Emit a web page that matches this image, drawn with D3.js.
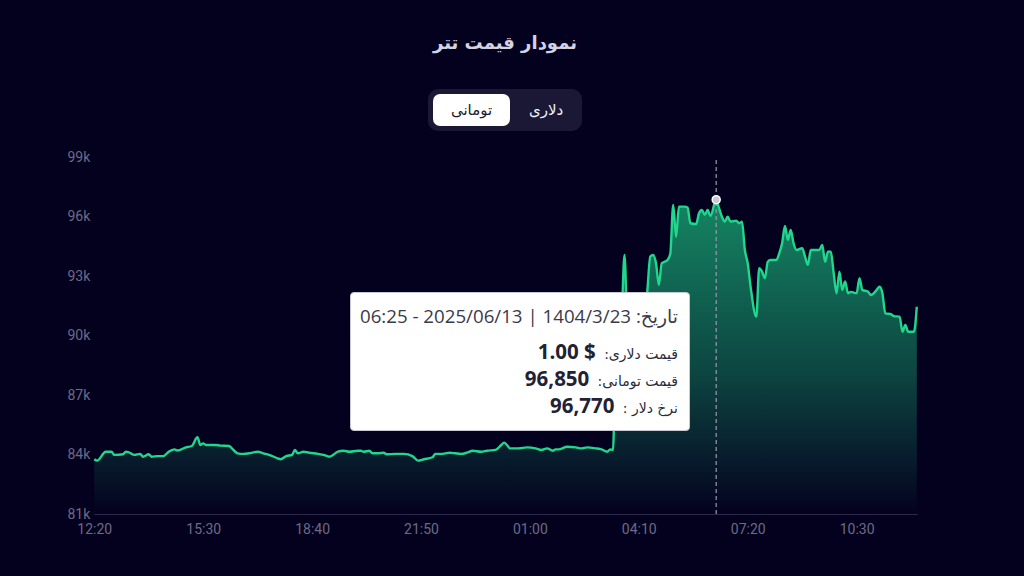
<!DOCTYPE html>
<html>
<head>
<meta charset="utf-8">
<script src="https://cdn.jsdelivr.net/npm/d3@7"></script>
<style>
  html, body { margin:0; padding:0; background:#04011e; }
  body { width:1024px; height:576px; position:relative; overflow:hidden; font-family: Roboto, "DejaVu Sans", sans-serif; }
  #title { position:absolute; left:0; width:1010px; top:32px; text-align:center; color:#d4d3e4; font-weight:bold; font-size:18px; font-family:"DejaVu Sans", sans-serif; }
  #toggle { position:absolute; left:428px; top:89px; width:154px; height:42px; background:#1b1836; border-radius:10px; }
  .tbtn { position:absolute; top:5px; height:32px; line-height:32px; text-align:center; font-size:15px; font-family:"DejaVu Sans", sans-serif; border-radius:7px; }
  #tip { position:absolute; left:350px; top:292px; width:338px; height:137px; background:#fff; border:1px solid #c9c9d2; border-radius:4px; direction:rtl; box-sizing:content-box; font-family: "Open Sans", Roboto, "DejaVu Sans", sans-serif; color:#2b2b3a; }
  .row { position:absolute; right:11px; white-space:nowrap; }
  .lbl { font-size:14px; font-family:"DejaVu Sans", sans-serif; color:#2a2a38; }
  .val { font-weight:bold; font-size:20.5px; color:#222233; font-family:"Open Sans", Roboto, sans-serif; }
</style>
</head>
<body>
<div id="title"></div>
<div id="toggle"></div>
<svg id="chart" width="1024" height="576" style="position:absolute;left:0;top:0"></svg>
<div id="tip"></div>
<script>
// ---- data ----
const titleText = "نمودار قیمت تتر";
const toggleLabels = ["تومانی", "دلاری"];
const times = [
 "12:20","12:25","12:40","12:50","12:55","13:10","13:15","13:20","13:30","13:40","13:45","13:55","14:00","14:10","14:20","14:30","14:40","14:45","15:00","15:10","15:20","15:25","15:30","15:35","15:50","16:00","16:15","16:20","16:30","16:40","16:50","17:05","17:15","17:25","17:40","17:45","17:55","18:05","18:10","18:15","18:25","18:35","18:50","19:00","19:10","19:25","19:35","19:45","20:00",
 "20:05","20:10","20:20","20:25","20:35","20:45","20:50","21:05","21:20","21:35","21:45","21:55","22:10","22:15","22:25","22:40","22:50","23:00","23:10","23:20","23:35","23:45","00:00","00:10","00:15","00:20","00:25","00:40","00:55","01:10","01:20","01:30","01:40","01:45","01:50","02:05","02:20","02:30","02:40","02:55","03:05","03:15","03:20","03:25",
 "03:30","03:35","03:40","03:45","03:50","03:55","04:05","04:10","04:20","04:25","04:30","04:35","04:40","04:45","04:50","04:55","05:00","05:05","05:10","05:15","05:20","05:30","05:35","05:40","05:50","05:55","06:00","06:05","06:10","06:15","06:25","06:30","06:35","06:40","06:45","06:50","07:00","07:05","07:10","07:15","07:20","07:25","07:35","07:40","07:45","07:50","07:55","08:00","08:10","08:15","08:20","08:25","08:30","08:35","08:40","08:45","08:55","09:00","09:05","09:10","09:25","09:30","09:35","09:40","09:45","09:50","09:55","10:00","10:05","10:10","10:15","10:20","10:30","10:35","10:40","10:50","10:55","11:05","11:10","11:15","11:20","11:30","11:35","11:45","11:50","11:55","12:00","12:10","12:15"
];
const prices = [
 83760,83690,84140,84140,83980,84010,84140,84110,83980,84030,83890,84010,83890,83920,83920,84140,84260,84200,84360,84430,84870,84480,84560,84480,84480,84450,84430,84310,84060,84030,84060,84140,84060,83980,83810,83760,83920,83980,84230,84060,84140,84090,84030,83980,83890,84140,84190,84140,84190,
 84190,84140,84190,84060,84060,84090,84010,84030,84030,83920,83690,83760,83860,84030,84030,84090,84060,84030,84090,84190,84140,84190,84230,84480,84600,84480,84310,84310,84360,84310,84230,84310,84190,84260,84260,84390,84360,84310,84360,84310,84260,84140,84260,84230,
 89800,90200,91000,94060,90600,90000,89700,89900,90600,92300,93980,94060,93640,92550,93640,93720,93800,94140,96580,94980,96500,96500,96450,95660,95620,96160,96330,96080,96330,96030,96850,96410,95990,95740,95990,95740,95790,95660,95740,94310,93640,92460,90950,93390,93220,92890,93720,93810,93810,94140,94650,95520,94820,95320,94650,94310,94400,93980,93560,94310,94310,94570,93720,94230,94230,93140,92130,93220,92300,92720,92130,92200,92130,92890,92300,92210,92040,92300,92460,92130,91120,91080,90980,90950,90190,90530,90190,90190,91450
];
const yTicks = [81000,84000,87000,90000,93000,96000,99000];
const xTickLabels = ["12:20","15:30","18:40","21:50","01:00","04:10","07:20","10:30"];
const hoverTime = "06:25";
const tipDate = "تاریخ: 1404/3/23 | 2025/06/13 - 06:25";
const tipLabels = ["قیمت دلاری:", "قیمت تومانی:", "نرخ دلار :"];
const tipValues = ["1.00 $", "96,850", "96,770"];

// ---- build dates ----
function toDates(list) {
  let day = 12, prev = -1;
  return list.map(t => {
    const [h, m] = t.split(":").map(Number);
    const mins = h * 60 + m;
    if (prev >= 0 && mins < prev) day += 1;
    prev = mins;
    return new Date(2025, 5, day, h, m);
  });
}
const dates = toDates(times);
const data = dates.map((d, i) => ({ d, v: prices[i] }));
const xTickDates = toDates(xTickLabels);

// ---- layout ----
const L = 94.3, R = 916.8, T = 157, B = 514;
const svg = d3.select("#chart");
const x = d3.scaleTime().domain([dates[0], dates[dates.length - 1]]).range([L, R]);
const y = d3.scaleLinear().domain([81000, 99000]).range([B, T]);

d3.select("#title").text(titleText);
const tg = d3.select("#toggle");
tg.append("div").attr("class", "tbtn").style("left", "5px").style("width", "77px")
  .style("background", "#ffffff").style("color", "#1c1a30").text(toggleLabels[0]);
tg.append("div").attr("class", "tbtn").style("left", "82px").style("width", "72px")
  .style("color", "#f0f0f8").text(toggleLabels[1]);

const defs = svg.append("defs");
const grad = defs.append("linearGradient").attr("id", "g").attr("gradientUnits", "userSpaceOnUse")
  .attr("x1", 0).attr("x2", 0).attr("y1", 200).attr("y2", B);
grad.append("stop").attr("offset", 0).attr("stop-color", "#1fd68c").attr("stop-opacity", 0.62);
grad.append("stop").attr("offset", 0.55).attr("stop-color", "#1fd68c").attr("stop-opacity", 0.32);
grad.append("stop").attr("offset", 1).attr("stop-color", "#1fd68c").attr("stop-opacity", 0.0);

// axis baseline
svg.append("line").attr("x1", L).attr("x2", R + 1).attr("y1", B + 0.5).attr("y2", B + 0.5)
  .attr("stroke", "#2c2a48").attr("stroke-width", 1);

const area = d3.area().x(d => x(d.d)).y0(B).y1(d => y(d.v)).curve(d3.curveMonotoneX);
const line = d3.line().x(d => x(d.d)).y(d => y(d.v)).curve(d3.curveMonotoneX);
svg.append("path").datum(data).attr("d", area).attr("fill", "url(#g)");
svg.append("path").datum(data).attr("d", line).attr("fill", "none")
  .attr("stroke", "#20d78d").attr("stroke-width", 2.4).attr("stroke-linejoin", "round");

// y axis
const yAxis = d3.axisLeft(y).tickValues(yTicks).tickSize(0).tickPadding(3).tickFormat(d => (d / 1000) + "k");
const gy = svg.append("g").attr("transform", `translate(${L - 1},0)`).call(yAxis);
gy.select(".domain").remove();
gy.selectAll("text").attr("fill", "#6d6a88").style("font-size", "14px").style("font-family", "Roboto, 'Open Sans', sans-serif");

// x axis
const xAxis = d3.axisBottom(x).tickValues(xTickDates).tickSize(0).tickPadding(10).tickFormat(d3.timeFormat("%H:%M"));
const gx = svg.append("g").attr("transform", `translate(0,${B})`).call(xAxis);
gx.select(".domain").remove();
gx.selectAll("text").attr("fill", "#6d6a88").style("font-size", "14px").style("font-family", "Roboto, 'Open Sans', sans-serif");

// hover
const hi = times.indexOf(hoverTime);
const hx = x(dates[hi]), hy = y(prices[hi]);
svg.append("line").attr("x1", hx).attr("x2", hx).attr("y1", 160).attr("y2", B)
  .attr("stroke", "#9a99ad").attr("stroke-width", 1.2).attr("stroke-dasharray", "4,3");
svg.append("circle").attr("cx", hx).attr("cy", hy).attr("r", 4)
  .attr("fill", "#c9c8d6").attr("stroke", "#ffffff").attr("stroke-width", 1.5);

// tooltip
const tip = d3.select("#tip");
tip.append("div").attr("class", "row").style("top", "10px").style("font-size", "18.7px").style("color", "#3a3a4a").text(tipDate);
tipLabels.forEach((l, i) => {
  const r = tip.append("div").attr("class", "row").style("top", (44 + i * 27) + "px");
  r.append("span").attr("class", "lbl").text(l);
  r.append("span").text("\u00a0\u00a0");
  r.append("span").attr("class", "val").attr("dir", "ltr").text(tipValues[i]);
});
</script>
</body>
</html>
